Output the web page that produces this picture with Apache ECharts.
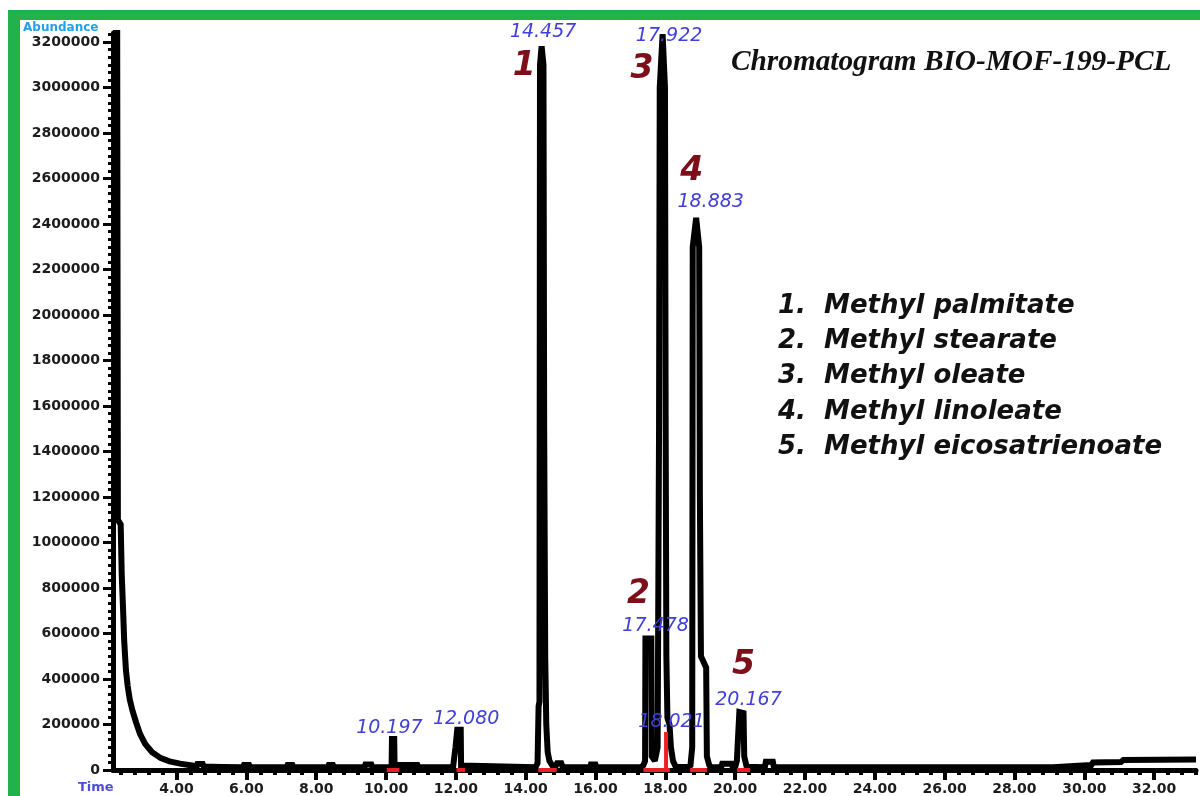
<!DOCTYPE html>
<html>
<head>
<meta charset="utf-8">
<title>Chromatogram BIO-MOF-199-PCL</title>
<script src="https://cdn.jsdelivr.net/npm/echarts@6/dist/echarts.min.js"></script>
<style>
  html, body { margin: 0; padding: 0; background: #ffffff; }
  #chart { width: 1200px; height: 796px; }
</style>
</head>
<body>
<div id="chart"></div>
<script>
// ---- Trace (retention time in min, abundance) ----
const solventRegion = [
  [2.18, 3240000], [2.30, 3240000], [2.32, 1100000], [2.40, 1080000], [2.43, 860000],
  [2.47, 700000], [2.50, 570000], [2.55, 440000], [2.60, 370000], [2.66, 310000],
  [2.74, 260000], [2.84, 210000], [2.95, 160000], [3.10, 115000], [3.30, 78000],
  [3.55, 52000], [3.80, 38000], [4.10, 28000], [4.40, 21000], [4.58, 17000]
];
const earlyBaseline = [
  [4.60, 26000], [4.75, 26000], [4.78, 15000], [5.30, 13000], [5.90, 12000],
  [5.93, 22000], [6.08, 22000], [6.11, 12000], [7.15, 12000], [7.18, 22000],
  [7.32, 22000], [7.35, 12000], [8.33, 12000], [8.36, 22000], [8.48, 22000],
  [8.51, 12000], [9.38, 12000], [9.41, 24000], [9.58, 24000], [9.61, 12000]
];
const peakRegion10 = [
  [10.10, 12000], [10.16, 20000], [10.17, 136000], [10.197, 136000], [10.235, 136000],
  [10.245, 22000], [10.90, 22000], [10.93, 12000]
];
const peakRegion12 = [
  [11.92, 12000], [11.97, 20000], [11.99, 100000], [12.03, 100000], [12.04, 177000],
  [12.080, 177000], [12.14, 177000], [12.15, 20000], [12.20, 12000]
];
const peakRegion14 = [
  [14.28, 12000], [14.34, 30000], [14.37, 280000], [14.395, 300000], [14.41, 3100000],
  [14.457, 3182000], [14.51, 3100000], [14.53, 1500000], [14.56, 500000],
  [14.59, 200000], [14.63, 80000], [14.68, 40000], [14.76, 20000], [14.85, 14000],
  [14.90, 30000], [15.02, 30000], [15.06, 13000], [15.85, 12000], [15.87, 24000],
  [16.00, 24000], [16.03, 12000]
];
const peakRegion17 = [
  [17.30, 12000], [17.37, 20000], [17.42, 40000], [17.43, 578000], [17.478, 578000],
  [17.60, 578000], [17.61, 60000], [17.70, 40000], [17.78, 100000],
  [17.82, 1500000], [17.84, 3000000], [17.922, 3235000], [17.99, 3000000], [18.01, 1500000],
  [18.03, 500000], [18.06, 230000], [18.12, 200000], [18.16, 100000], [18.22, 40000],
  [18.30, 13000]
];
const peakRegion19 = [
  [18.66, 13000], [18.72, 20000], [18.77, 100000], [18.785, 2300000], [18.883, 2427000],
  [18.97, 2300000], [18.99, 1200000], [19.02, 500000], [19.08, 480000], [19.17, 450000],
  [19.19, 60000], [19.26, 20000], [19.32, 12000],
  [19.60, 12000], [19.63, 28000], [19.90, 28000], [19.93, 12000]
];
const peakRegion20 = [
  [20.00, 12000], [20.05, 40000], [20.07, 105000], [20.10, 110000], [20.12, 255000],
  [20.167, 255000], [20.24, 250000], [20.26, 60000], [20.33, 14000],
  [20.85, 12000], [20.88, 36000], [21.08, 36000], [21.11, 12000]
];
const lateBaseline = [
  [29.10, 12000], [29.14, 20000], [30.20, 22000], [30.25, 33000], [31.05, 35000],
  [31.12, 44000], [33.20, 46000]
];

// ---- Integration marks ----
const integrationBaselines = [
  [10.02, 10.38], [12.02, 12.26], [14.36, 14.89], [17.37, 18.13], [18.71, 19.19], [20.05, 20.43]
];
const dropLineTime = 18.021;
const dropLineHeight = 167000;

// ---- Peak annotations ----
const peakTimes   = [10.197, 12.080, 14.457, 17.478, 17.922, 18.021, 18.883, 20.167];
const peakHeights = [136000, 177000, 3182000, 578000, 3235000, 167000, 2427000, 255000];
const compoundPeakTimes   = [14.457, 17.478, 17.922, 18.883, 20.167];
const compoundPeakHeights = [3182000, 578000, 3235000, 2427000, 255000];
const compoundNames = [
  'Methyl palmitate', 'Methyl stearate', 'Methyl oleate', 'Methyl linoleate', 'Methyl eicosatrienoate'
];

// ---- Axes ----
const xTickValues = [4, 6, 8, 10, 12, 14, 16, 18, 20, 22, 24, 26, 28, 30, 32];
const yTickValues = [0, 200000, 400000, 600000, 800000, 1000000, 1200000, 1400000, 1600000,
  1800000, 2000000, 2200000, 2400000, 2600000, 2800000, 3000000, 3200000];
const xMin = 2.18, xMax = 33.2;
const yMin = 0, yMax = 3240000;

// minor ticks: 5 intervals per 2 min, 6 intervals per 200000
const xMinorTicks = [];
[2].concat(xTickValues).forEach(function (m) {
  for (let k = 1; k < 5; k++) {
    const v = +(m + 0.4 * k).toFixed(2);
    if (v > xMin && v <= xMax) xMinorTicks.push(v);
  }
});
const yMinorTicks = [];
yTickValues.forEach(function (m) {
  for (let k = 1; k < 6; k++) {
    const v = Math.round(m + 200000 * k / 6);
    if (v < yMax) yMinorTicks.push(v);
  }
});

// label nudges in px (centre of text relative to peak apex)
const timeLabelNudge = [[-3, -11], [8, -10], [2, -14], [9, -12], [7, 2], [6, -9], [15, -15], [8, -11]];
const numberLabelNudge = [[-17, 21], [-8, -44], [-20, 36], [-4, -46], [3, -46]];

const trace = [].concat(solventRegion, earlyBaseline, peakRegion10, peakRegion12,
  peakRegion14, peakRegion17, peakRegion19, peakRegion20, lateBaseline);

const TICK_FONT = '"DejaVu Sans", Verdana, sans-serif';
const HIDDEN = 'rgba(0,0,0,0)';

const redSeries = integrationBaselines.map(function (seg) {
  return {
    type: 'line', z: 5, silent: true, symbol: 'none',
    data: [[seg[0], 0], [seg[1], 0]],
    lineStyle: { color: '#e8202a', width: 4 }
  };
});
redSeries.push({
  type: 'line', z: 5, silent: true, symbol: 'none',
  data: [[dropLineTime, 0], [dropLineTime, dropLineHeight]],
  lineStyle: { color: '#e8202a', width: 4 }
});

const chart = echarts.init(document.getElementById('chart'), null, { renderer: 'canvas' });

const option = {
  animation: false,
  backgroundColor: '#ffffff',
  grid: { left: 113, right: 4, top: 33, bottom: 25 },
  xAxis: [
    {
      type: 'value', min: xMin, max: xMax, position: 'bottom',
      axisLine: { show: true, onZero: false, lineStyle: { color: '#000', width: 5 } },
      axisTick: { show: true, customValues: xTickValues, length: 10, lineStyle: { color: '#000', width: 4 } },
      axisLabel: {
        show: true, customValues: xTickValues, margin: 12,
        formatter: function (v) { return Number(v).toFixed(2); },
        color: '#1c1c1c', fontWeight: 'bold', fontSize: 14, fontFamily: TICK_FONT
      },
      splitLine: { show: false }
    },
    {
      type: 'value', min: xMin, max: xMax, position: 'bottom', gridIndex: 0,
      axisLine: { show: false, onZero: false },
      axisTick: { show: true, customValues: xMinorTicks, length: 5, lineStyle: { color: '#000', width: 4 } },
      axisLabel: { show: false },
      splitLine: { show: false }
    }
  ],
  yAxis: [
    {
      type: 'value', min: yMin, max: yMax, position: 'left',
      axisLine: { show: true, onZero: false, lineStyle: { color: '#000', width: 5 } },
      axisTick: { show: true, customValues: yTickValues, length: 10, lineStyle: { color: '#000', width: 3 } },
      axisLabel: {
        show: true, customValues: yTickValues, margin: 13,
        formatter: function (v) { return String(Math.round(v)); },
        color: '#1c1c1c', fontWeight: 'bold', fontSize: 14, fontFamily: TICK_FONT
      },
      splitLine: { show: false }
    },
    {
      type: 'value', min: yMin, max: yMax, position: 'left', offset: 0, gridIndex: 0,
      axisLine: { show: false, onZero: false },
      axisTick: { show: true, customValues: yMinorTicks, length: 5, lineStyle: { color: '#000', width: 3 } },
      axisLabel: { show: false },
      splitLine: { show: false }
    }
  ],
  series: [
    {
      name: 'TIC', type: 'line', z: 3, silent: true, symbol: 'none',
      data: trace,
      lineStyle: { color: '#000000', width: 6, join: 'miter', miterLimit: 2, cap: 'butt' }
    },
    {
      name: 'retention time labels', type: 'scatter', z: 4, silent: true,
      symbolSize: 1, itemStyle: { color: HIDDEN, opacity: 1 },
      data: peakTimes.map(function (t, i) {
        return {
          value: [t, peakHeights[i]],
          label: { position: timeLabelNudge[i] }
        };
      }),
      label: {
        show: true, align: 'center', verticalAlign: 'middle',
        formatter: function (p) { return p.value[0].toFixed(3); },
        color: '#4040d8', fontStyle: 'italic', fontSize: 19, fontFamily: TICK_FONT
      }
    },
    {
      name: 'compound numbers', type: 'scatter', z: 4, silent: true,
      symbolSize: 1, itemStyle: { color: HIDDEN, opacity: 1 },
      data: compoundPeakTimes.map(function (t, i) {
        return {
          value: [t, compoundPeakHeights[i], i + 1],
          label: { position: numberLabelNudge[i] }
        };
      }),
      label: {
        show: true, align: 'center', verticalAlign: 'middle',
        formatter: function (p) { return String(p.value[2]); },
        color: '#7e0f1a', fontStyle: 'italic', fontWeight: 'bold', fontSize: 33, fontFamily: TICK_FONT
      }
    }
  ].concat(redSeries),
  graphic: [
    // green frame
    { type: 'rect', z: 10, shape: { x: 8, y: 10, width: 1192, height: 10 }, style: { fill: '#22b24c' } },
    { type: 'rect', z: 10, shape: { x: 8, y: 10, width: 12, height: 786 }, style: { fill: '#22b24c' } },
    // axis names
    { type: 'text', z: 10, x: 23, y: 28, style: {
        text: 'Abundance', fill: '#22a0e8', align: 'left', verticalAlign: 'middle',
        fontWeight: 'bold', fontSize: 12, fontFamily: TICK_FONT } },
    { type: 'text', z: 10, x: 78, y: 788, style: {
        text: 'Time', fill: '#4d4dd6', align: 'left', verticalAlign: 'middle',
        fontWeight: 'bold', fontSize: 13, fontFamily: TICK_FONT } },
    // title
    { type: 'text', z: 10, x: 731, y: 62, style: {
        text: 'Chromatogram BIO-MOF-199-PCL', fill: '#111', align: 'left', verticalAlign: 'middle',
        fontWeight: 'bold', fontStyle: 'italic', fontSize: 29.3,
        fontFamily: '"Liberation Serif", "Times New Roman", serif' } }
  ].concat(compoundNames.map(function (name, i) {
    return { type: 'text', z: 10, x: 778, y: 306 + i * 35.3, style: {
      text: (i + 1) + '.  ' + name, fill: '#111', align: 'left', verticalAlign: 'middle',
      fontWeight: 'bold', fontStyle: 'italic', fontSize: 26, fontFamily: TICK_FONT } };
  }))
};

chart.setOption(option);
</script>
</body>
</html>
